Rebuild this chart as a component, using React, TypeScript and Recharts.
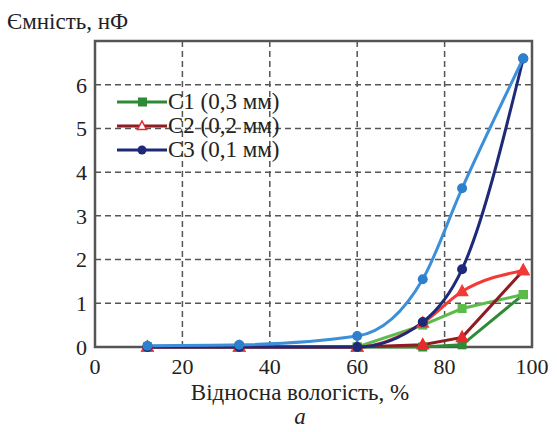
import { LineChart, Line, XAxis, YAxis, CartesianGrid, ReferenceArea } from "recharts"

// relative humidity, %
const humidity = [12, 33, 60, 75, 84, 98]

// capacitance, nF
const c1 = [0, 0, 0, 0, 0.05, 1.2]
const c1Fit = [0, 0, 0, 0.5, 0.88, 1.2]
const c2 = [0, 0, 0, 0.05, 0.22, 1.75]
const c2Fit = [0, 0, 0, 0.55, 1.27, 1.75]
const c3 = [0, 0, 0, 0.57, 1.78, 6.6]
const c3Fit = [0.03, 0.05, 0.25, 1.55, 3.63, 6.6]

const xTicks = [0, 20, 40, 60, 80, 100]
const yTicks = [0, 1, 2, 3, 4, 5, 6]

const legendItems = [
  { name: "C1 (0,3 мм)", color: "#2f8a36", marker: "square" },
  { name: "C2 (0,2 мм)", color: "#8e1c22", marker: "triangle" },
  { name: "C3 (0,1 мм)", color: "#1e2a78", marker: "circle" },
]

const data = humidity.map((x, i) => ({
  x,
  c1: c1[i],
  c1Fit: c1Fit[i],
  c2: c2[i],
  c2Fit: c2Fit[i],
  c3: c3[i],
  c3Fit: c3Fit[i],
}))

const font = '"Liberation Serif", "Times New Roman", Tinos, "Noto Serif", FreeSerif, Times, "DejaVu Serif", serif'

const square = (color: string) => (p: any) => (
  <rect key={p.index} x={p.cx - 4.5} y={p.cy - 4.5} width={9} height={9} fill={color} />
)

const triangle = (color: string, fill: string) => (p: any) => (
  <path
    key={p.index}
    d={`M${p.cx},${p.cy - 6} L${p.cx + 5.5},${p.cy + 4} L${p.cx - 5.5},${p.cy + 4} Z`}
    fill={fill}
    stroke={color}
    strokeWidth={1.5}
  />
)

const circle = (color: string) => (p: any) => <circle key={p.index} cx={p.cx} cy={p.cy} r={5} fill={color} />

function LegendIcon({ color, marker }: { color: string; marker: string }) {
  return (
    <svg width={50} height={12} style={{ display: "block" }}>
      <line x1={0} y1={6} x2={50} y2={6} stroke={color} strokeWidth={3} />
      {marker === "square" && <rect x={21} y={1.5} width={9} height={9} fill={color} />}
      {marker === "triangle" && <path d="M25,1 L29.5,9.5 L20.5,9.5 Z" fill="#fff" stroke="#e8282a" strokeWidth={1.5} />}
      {marker === "circle" && <circle cx={25} cy={6} r={4.5} fill={color} />}
    </svg>
  )
}

export default function App() {
  return (
    <div style={{ position: "absolute", left: 0, top: 0, width: 557, height: 432, background: "#fff", fontFamily: font }}>
      <div style={{ position: "absolute", left: 7, top: 9, fontSize: 23, lineHeight: "26px", color: "#222" }}>
        Ємність, нФ
      </div>
      <LineChart width={557} height={432} data={data} margin={{ top: 41, right: 25, bottom: 55, left: 35 }} style={{ fontFamily: font }}>
        <CartesianGrid stroke="#555" strokeDasharray="6 4" strokeWidth={1.5} />
        <XAxis
          dataKey="x"
          type="number"
          domain={[0, 100]}
          ticks={xTicks}
          axisLine={false}
          tickLine={false}
          tickSize={0}
          tickMargin={11}
          height={30}
          tick={{ fontSize: 22, fill: "#222", fontFamily: font }}
        />
        <YAxis
          type="number"
          domain={[0, 7]}
          ticks={yTicks}
          axisLine={false}
          tickLine={false}
          tickSize={0}
          tickMargin={8}
          width={60}
          tick={{ fontSize: 22, fill: "#222", fontFamily: font }}
        />
        <ReferenceArea x1={0} x2={100} y1={0} y2={7} fill="none" stroke="#555" strokeWidth={2.5} />
        <Line dataKey="c1" type="linear" stroke="#2f8a36" strokeWidth={3} dot={square("#2f8a36")} isAnimationActive={false} />
        <Line dataKey="c1Fit" type="linear" stroke="#5dbb4c" strokeWidth={3} dot={square("#5dbb4c")} isAnimationActive={false} />
        <Line dataKey="c2" type="linear" stroke="#8e1c22" strokeWidth={3} dot={triangle("#e8282a", "#e8282a")} isAnimationActive={false} />
        <Line dataKey="c2Fit" type="monotone" stroke="#f23a36" strokeWidth={3} dot={triangle("#f23a36", "#f23a36")} isAnimationActive={false} />
        <Line dataKey="c3" type="monotone" stroke="#1e2a78" strokeWidth={3} dot={circle("#1e2a78")} isAnimationActive={false} />
        <Line dataKey="c3Fit" type="monotone" stroke="#3c8fd8" strokeWidth={3} dot={circle("#2d80cc")} isAnimationActive={false} />
      </LineChart>
      <div style={{ position: "absolute", left: 117, top: 90 }}>
        {legendItems.map((it) => (
          <div key={it.name} style={{ display: "flex", alignItems: "center", height: 24 }}>
            <LegendIcon color={it.color} marker={it.marker} />
            <span style={{ fontSize: 23, color: "#222", lineHeight: "24px", marginLeft: 1 }}>{it.name}</span>
          </div>
        ))}
      </div>
      <div style={{ position: "absolute", left: 0, width: 600, top: 380, textAlign: "center", fontSize: 23, lineHeight: "26px", color: "#222" }}>
        Відносна вологість, %
      </div>
      <div style={{ position: "absolute", left: 0, width: 600, top: 404, textAlign: "center", fontSize: 23, lineHeight: "26px", fontStyle: "italic", color: "#222" }}>
        a
      </div>
    </div>
  )
}
